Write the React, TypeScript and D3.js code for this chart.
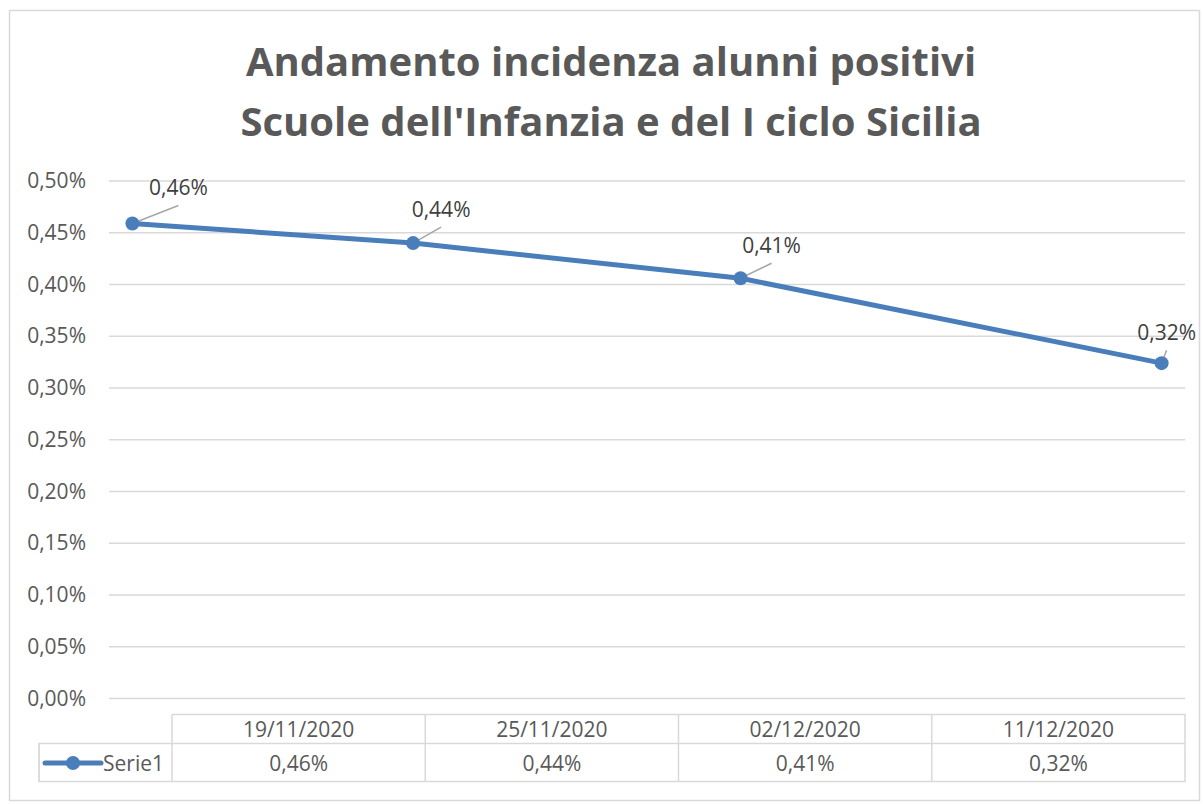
import { useEffect, useRef } from "react";
import * as d3 from "d3";

// data
const dates = ["19/11/2020", "25/11/2020", "02/12/2020", "11/12/2020"];
const values = [0.00459, 0.0044, 0.00406, 0.00324];
const yTicks = [0, 0.0005, 0.001, 0.0015, 0.002, 0.0025, 0.003, 0.0035, 0.004, 0.0045, 0.005];
const seriesName = "Serie1";
const titleLines = ["Andamento incidenza alunni positivi", "Scuole dell'Infanzia e del I ciclo Sicilia"];
// label offsets from each point (dx, dy to baseline)
const labelOffsets = [
  [46, -28],
  [28, -26],
  [31, -25],
  [5, -23],
];

const FONT = "'Open Sans', 'Noto Sans', sans-serif";
const BLUE = "#4a7ebb";
const GRID = "#d9d9d9";
const SMALL = 21;

const App = () => {
  const svgRef = useRef<SVGSVGElement>(null);

  useEffect(() => {
    const svg = d3.select(svgRef.current);
    svg.selectAll("*").remove();

    const width = 1203;
    const height = 804;
    const plot = { left: 109, right: 1185, top: 181, bottom: 698.5 };

    svg.append("rect").attr("x", 0).attr("y", 0).attr("width", width).attr("height", height).attr("fill", "#fff");
    svg.append("rect").attr("x", 9.5).attr("y", 10.5).attr("width", 1190).attr("height", 790)
      .attr("fill", "#fff").attr("stroke", GRID).attr("stroke-width", 1.5);

    // title
    const title = svg.append("text").attr("text-anchor", "middle").attr("font-family", FONT)
      .attr("font-weight", 700).attr("font-size", 40).attr("fill", "#595959");
    titleLines.forEach((t, i) => {
      title.append("tspan").attr("x", 611).attr("y", 76 + i * 60).text(t);
    });

    const parse = d3.timeParse("%d/%m/%Y");
    const parsed = dates.map((d) => parse(d) as Date);
    const halfDay = 12 * 3600 * 1000;
    const x = d3.scaleTime()
      .domain([new Date(parsed[0].getTime() - halfDay), new Date(parsed[parsed.length - 1].getTime() + halfDay)])
      .range([plot.left, plot.right]);
    const y = d3.scaleLinear().domain([0, 0.005]).range([plot.bottom, plot.top]);

    const fmt = (v: number) => d3.format(".2f")(v * 100).replace(".", ",") + "%";

    // gridlines + y labels
    svg.append("g").selectAll("line").data(yTicks).join("line")
      .attr("x1", plot.left).attr("x2", plot.right)
      .attr("y1", (d) => y(d)).attr("y2", (d) => y(d))
      .attr("stroke", GRID).attr("stroke-width", 1.5);
    svg.append("g").selectAll("text").data(yTicks).join("text")
      .attr("x", 86).attr("y", (d) => y(d) + 7)
      .attr("text-anchor", "end").attr("font-family", FONT).attr("font-size", SMALL)
      .attr("fill", "#595959").text((d) => fmt(d));

    // leader lines
    svg.append("g").selectAll("line").data(values).join("line")
      .attr("x1", (_, i) => x(parsed[i])).attr("y1", (d) => y(d))
      .attr("x2", (_, i) => x(parsed[i]) + labelOffsets[i][0])
      .attr("y2", (d, i) => y(d) + labelOffsets[i][1] + 10)
      .attr("stroke", "#a6a6a6").attr("stroke-width", 1.5);

    // series
    const line = d3.line<number>().x((_, i) => x(parsed[i])).y((d) => y(d));
    svg.append("path").datum(values).attr("fill", "none").attr("stroke", BLUE)
      .attr("stroke-width", 5).attr("stroke-linejoin", "round").attr("d", line);
    svg.append("g").selectAll("circle").data(values).join("circle")
      .attr("cx", (_, i) => x(parsed[i])).attr("cy", (d) => y(d)).attr("r", 7).attr("fill", BLUE);

    // data labels
    svg.append("g").selectAll("text").data(values).join("text")
      .attr("x", (_, i) => x(parsed[i]) + labelOffsets[i][0])
      .attr("y", (d, i) => y(d) + labelOffsets[i][1])
      .attr("text-anchor", "middle").attr("font-family", FONT).attr("font-size", SMALL)
      .attr("fill", "#404040").text((d) => fmt(d));

    // data table
    const tTop = 714.5, tMid = 743.5, tBot = 781.5;
    const legendLeft = 39, colLeft = 172, colRight = 1185;
    const col = d3.scaleBand<string>().domain(dates).range([colLeft, colRight]);
    const tg = svg.append("g").attr("stroke", GRID).attr("stroke-width", 1.5).attr("fill", "none");
    tg.append("path").attr("d",
      `M${colLeft},${tTop}H${colRight}V${tBot}H${legendLeft}V${tMid}H${colRight}`);
    [legendLeft, ...dates.map((d) => col(d) as number)].forEach((cx, i) => {
      tg.append("line").attr("x1", cx).attr("x2", cx).attr("y1", i === 0 ? tMid : tTop).attr("y2", tBot);
    });

    svg.append("g").selectAll("text").data(dates).join("text")
      .attr("x", (d) => (col(d) as number) + col.bandwidth() / 2).attr("y", 737)
      .attr("text-anchor", "middle").attr("font-family", FONT).attr("font-size", SMALL)
      .attr("fill", "#595959").text((d) => d);
    svg.append("g").selectAll("text").data(values).join("text")
      .attr("x", (_, i) => (col(dates[i]) as number) + col.bandwidth() / 2).attr("y", 771)
      .attr("text-anchor", "middle").attr("font-family", FONT).attr("font-size", SMALL)
      .attr("fill", "#595959").text((d) => fmt(d));

    // legend key
    svg.append("line").attr("x1", 45).attr("x2", 101).attr("y1", 763).attr("y2", 763)
      .attr("stroke", BLUE).attr("stroke-width", 5).attr("stroke-linecap", "round");
    svg.append("circle").attr("cx", 73).attr("cy", 763).attr("r", 7).attr("fill", BLUE);
    svg.append("text").attr("x", 103).attr("y", 771).attr("font-family", FONT).attr("font-size", SMALL)
      .attr("fill", "#595959").text(seriesName);
  }, []);

  return (
    <div style={{ position: "absolute", left: 0, top: 0 }}>
      <svg ref={svgRef} width={1203} height={804}></svg>
    </div>
  );
};

export default App;
